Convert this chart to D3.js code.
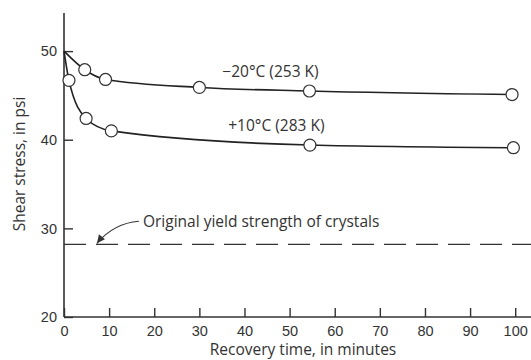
<!DOCTYPE html>
<html lang="en">
<head>
    <meta charset="UTF-8">
    <title>Shear stress recovery</title>
    <script src="https://d3js.org/d3.v7.min.js"></script>
    <style>
        body { margin: 0; background: #fff; }
        svg { font-family: "Open Sans", sans-serif; }
        .axis text { font-size: 14.5px; fill: #333; }
        .axis line, .axis path { stroke: #333; stroke-width: 1.4px; }
        .curve { fill: none; stroke: #222; stroke-width: 1.6px; }
        .pt { fill: #fff; stroke: #333; stroke-width: 1.2px; }
        .lbl { font-size: 15.5px; fill: #333; }
    </style>
</head>
<body>
    <div id="chart"></div>
    <script>
        // recovery time (min) and shear stress (psi)
        var coldTime   = [0, 4.6, 9.2, 30, 54.4, 99.3];
        var coldStress = [50, 47.9, 46.8, 45.9, 45.5, 45.1];
        var warmTime   = [0, 1.1, 4.9, 10.5, 54.5, 99.6];
        var warmStress = [50, 46.7, 42.4, 41.0, 39.4, 39.1];
        var yieldStress = 28.2;
        var xTicks = [0, 10, 20, 30, 40, 50, 60, 70, 80, 90, 100];
        var yTicks = [20, 30, 40, 50];

        var width = 531, height = 360;

        var svg = d3.select("#chart").append("svg")
            .attr("width", width)
            .attr("height", height);

        var x = d3.scaleLinear().domain([0, 103.5]).range([64, 531]);
        var y = d3.scaleLinear().domain([20, 54.3]).range([317, 13]);

        // axes, ticks pointing inward
        svg.append("g")
            .attr("class", "axis")
            .attr("transform", "translate(0," + y(20) + ")")
            .call(d3.axisBottom(x).tickValues(xTicks).tickSize(-9).tickPadding(9).tickSizeOuter(0))
            .call(function(g) { g.select(".domain").remove(); });

        svg.append("g")
            .attr("class", "axis")
            .attr("transform", "translate(" + x(0) + ",0)")
            .call(d3.axisLeft(y).tickValues(yTicks).tickSize(-9).tickPadding(7).tickSizeOuter(0))
            .call(function(g) { g.select(".domain").remove(); });

        svg.append("line")
            .attr("x1", x(0)).attr("x2", x(103.5))
            .attr("y1", y(20)).attr("y2", y(20))
            .attr("stroke", "#333").attr("stroke-width", 1.6);
        svg.append("line")
            .attr("x1", x(0)).attr("x2", x(0))
            .attr("y1", y(20)).attr("y2", y(54.3))
            .attr("stroke", "#333").attr("stroke-width", 1.6);

        // axis titles
        svg.append("text")
            .attr("class", "lbl")
            .attr("x", 303).attr("y", 355)
            .attr("text-anchor", "middle")
            .text("Recovery time, in minutes");

        svg.append("text")
            .attr("class", "lbl")
            .attr("transform", "translate(25,164) rotate(-90)")
            .attr("text-anchor", "middle")
            .text("Shear stress, in psi");

        // yield strength dashed line
        svg.append("line")
            .attr("x1", x(0)).attr("x2", x(103.5))
            .attr("y1", y(yieldStress)).attr("y2", y(yieldStress))
            .attr("stroke", "#333").attr("stroke-width", 1.3)
            .attr("stroke-dasharray", "22,10");

        var line = d3.line()
            .x(function(d) { return x(d[0]); })
            .y(function(d) { return y(d[1]); })
            .curve(d3.curveMonotoneX);

        function drawSeries(times, stresses) {
            var pts = times.map(function(t, i) { return [t, stresses[i]]; });
            svg.append("path").attr("class", "curve").attr("d", line(pts));
            svg.selectAll(null)
                .data(pts.slice(1))
                .enter().append("circle")
                .attr("class", "pt")
                .attr("cx", function(d) { return x(d[0]); })
                .attr("cy", function(d) { return y(d[1]); })
                .attr("r", 6);
        }

        drawSeries(coldTime, coldStress);
        drawSeries(warmTime, warmStress);

        svg.append("text").attr("class", "lbl")
            .attr("x", x(35.1)).attr("y", y(47.7)).attr("dy", "0.35em")
            .text("\u221220\u00b0C (253 K)");
        svg.append("text").attr("class", "lbl")
            .attr("x", x(36.4)).attr("y", y(41.6)).attr("dy", "0.35em")
            .text("+10\u00b0C (283 K)");

        // annotation with curved arrow
        svg.append("text").attr("class", "lbl")
            .attr("x", x(17.5)).attr("y", y(30.8)).attr("dy", "0.35em")
            .text("Original yield strength of crystals");

        var tip = [x(7.3), y(yieldStress) - 1];
        var start = [x(16.6), y(30.8)];
        svg.append("path")
            .attr("d", "M" + start[0] + "," + start[1] +
                " Q" + (start[0] - 25) + "," + (start[1] + 2) + " " + tip[0] + "," + tip[1])
            .attr("fill", "none").attr("stroke", "#333").attr("stroke-width", 1.1);
        svg.append("path")
            .attr("d", "M" + tip[0] + "," + tip[1] + " l2,-9 l6,5 z")
            .attr("fill", "#333");
    </script>
</body>
</html>
